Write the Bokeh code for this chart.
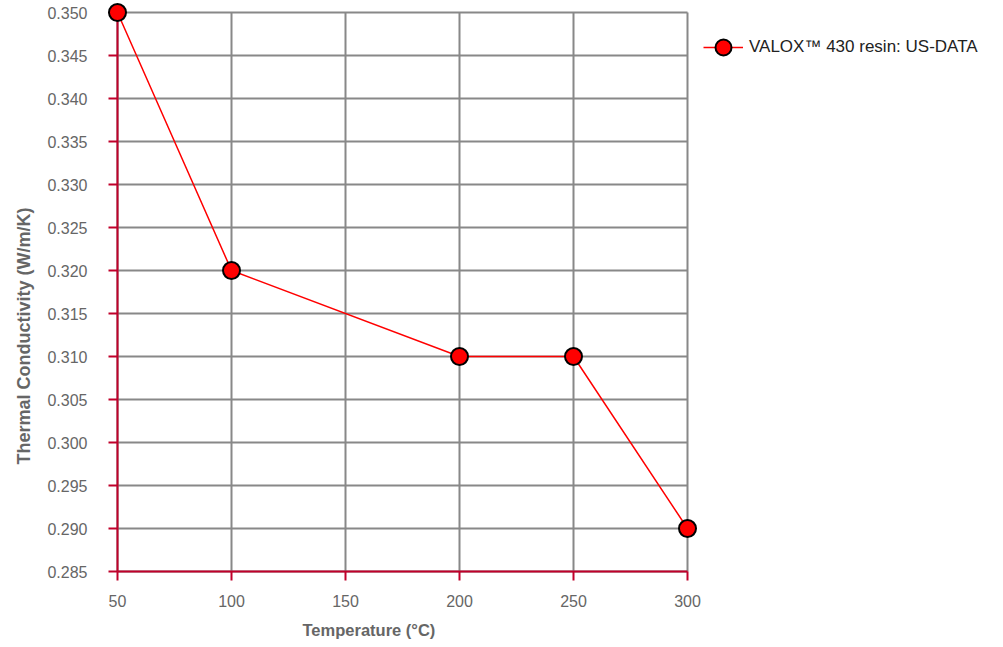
import math
from bokeh.plotting import figure
from bokeh.models import Range1d, FixedTicker, Legend, LegendItem, NumeralTickFormatter, Title
from bokeh.embed import file_html
from bokeh.resources import INLINE

temps = [50, 100, 200, 250, 300]
conductivity = [0.35, 0.32, 0.31, 0.31, 0.29]
x_ticks = [50, 100, 150, 200, 250, 300]
y_ticks = [0.285, 0.29, 0.295, 0.30, 0.305, 0.31, 0.315, 0.32, 0.325, 0.33, 0.335, 0.34, 0.345, 0.35]
series_name = "VALOX\u2122 430 resin: US-DATA"
x_min, x_max = x_ticks[0], x_ticks[-1]
y_min, y_max = y_ticks[0], y_ticks[-1]

# 10px padding around the data area so that edge markers are not clipped
pad = 10
fw, fh = 570, 559
xpad = pad * (x_max - x_min) / fw
ypad = pad * (y_max - y_min) / fh

p = figure(frame_width=fw + 2 * pad, frame_height=fh + 2 * pad, output_backend="svg",
           toolbar_location=None,
           x_range=Range1d(x_min - xpad, x_max + xpad), y_range=Range1d(y_min - ypad, y_max + ypad),
           min_border_left=116 - pad, min_border_right=0, min_border_top=12 - pad, min_border_bottom=60)
p.outline_line_color = None
p.xgrid.visible = False
p.ygrid.visible = False

axis_red = "#c0002a"
grid_col = "#888888"

# grid drawn as segments within the data area
p.segment(x0=x_ticks, x1=x_ticks, y0=[y_min] * len(x_ticks), y1=[y_max] * len(x_ticks),
          line_color=grid_col, line_width=2, level="underlay")
p.segment(x0=[x_min] * len(y_ticks), x1=[x_max] * len(y_ticks), y0=y_ticks, y1=y_ticks,
          line_color=grid_col, line_width=2, level="underlay")

# red axis lines and outward ticks at the data edges
p.segment(x0=[x_min, x_min], x1=[x_min, x_max], y0=[y_min, y_min], y1=[y_max, y_min],
          line_color=axis_red, line_width=2)
p.ray(x=[x_min] * len(y_ticks), y=y_ticks, length=9, length_units="screen", angle=math.pi,
      line_color=axis_red, line_width=2)
p.ray(x=x_ticks, y=[y_min] * len(x_ticks), length=9, length_units="screen", angle=-math.pi / 2,
      line_color=axis_red, line_width=2)

# side axes only carry the tick labels
for ax in (p.xaxis[0], p.yaxis[0]):
    ax.axis_line_color = None
    ax.major_tick_line_color = None
    ax.minor_tick_line_color = None
    ax.major_tick_out = 0
    ax.major_tick_in = 0
    ax.major_label_text_color = "#666666"
    ax.major_label_text_font = "Liberation Sans"
    ax.major_label_text_font_size = "16px"

p.xaxis.ticker = FixedTicker(ticks=x_ticks)
p.yaxis.ticker = FixedTicker(ticks=y_ticks)
p.yaxis.formatter = NumeralTickFormatter(format="0.000")
p.xaxis.major_label_standoff = 13
p.yaxis.major_label_standoff = 20

p.add_layout(Title(text="Thermal Conductivity (W/m/K)", align="left", offset=117,
                   text_font="Liberation Sans", text_font_size="18px", text_font_style="bold",
                   text_color="#666666", standoff=22), "left")
p.add_layout(Title(text="Temperature (\u00b0C)", align="left", offset=195,
                   text_font="Liberation Sans", text_font_size="16.5px", text_font_style="bold",
                   text_color="#666666", standoff=18), "below")

ln = p.line(temps, conductivity, line_color="red", line_width=1.5)
sc = p.scatter(temps, conductivity, size=17, fill_color="red", line_color="black", line_width=2)

legend = Legend(items=[LegendItem(label=series_name, renderers=[ln, sc])],
                location="top_left", border_line_color=None, background_fill_alpha=0,
                label_text_font="Liberation Sans", label_text_font_size="17px",
                label_text_color="#222222", glyph_width=40, glyph_height=78, label_standoff=6,
                margin=6, padding=6)
p.add_layout(legend, "right")

open("out.html", "w").write(file_html(p, INLINE))
